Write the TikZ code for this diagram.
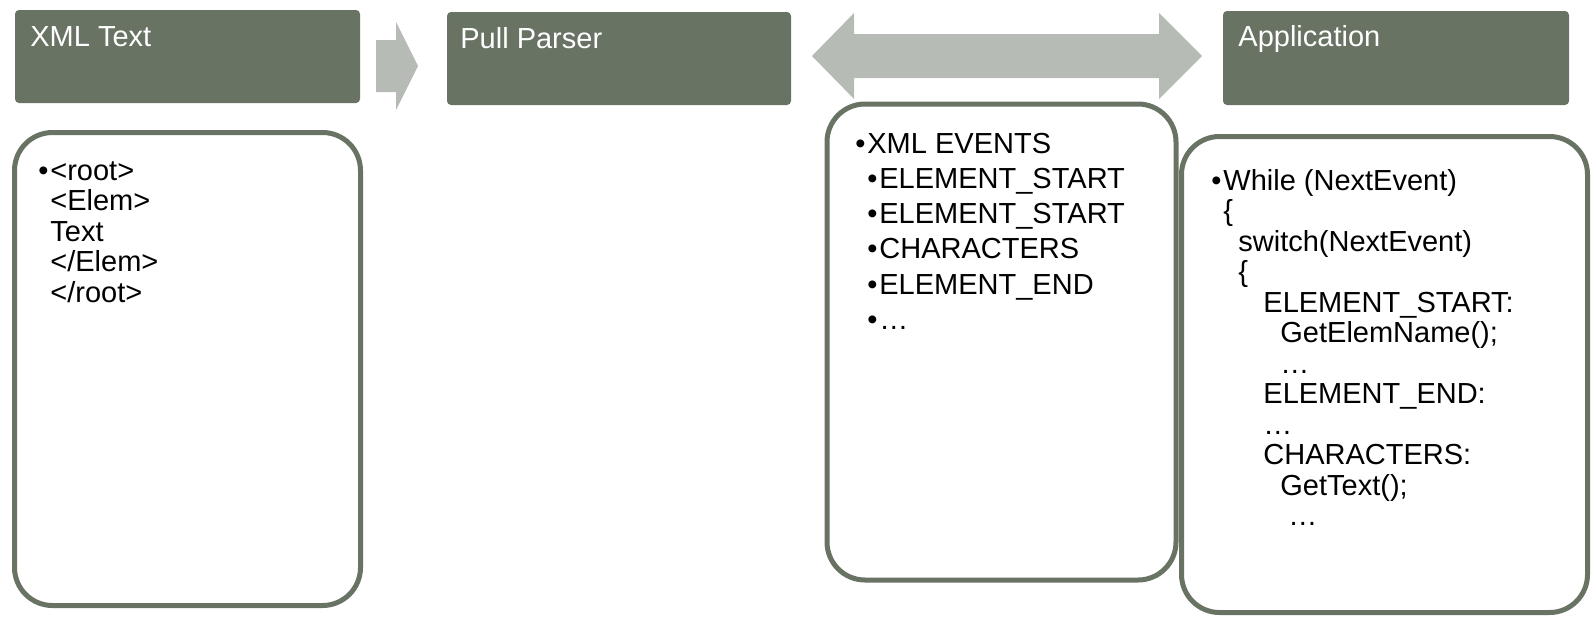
\documentclass[tikz,border=0pt]{standalone}
\usepackage{fontspec}
\setmainfont{Liberation Sans}
\usetikzlibrary{fit}

\definecolor{boxgreen}{RGB}{104,115,100}
\definecolor{arrowgray}{RGB}{182,188,181}

% bullet with a fixed advance so that bulleted lines line up
\newcommand{\bulletmark}{\makebox[6pt][l]{\textbullet}}

\tikzset{
  titlebox/.style={fill=boxgreen, rounded corners=2pt, inner sep=0pt},
  listbox/.style={draw=boxgreen, line width=2.5pt, fill=white, rounded corners=19pt, inner sep=0pt},
  titletext/.style={anchor=base west, inner sep=0pt, text=white, font=\fontsize{14.5}{15.25}\selectfont},
  bodytext/.style={anchor=base west, inner sep=0pt, text=black, font=\fontsize{14.5}{15.25}\selectfont},
  blockarrow/.style={fill=arrowgray},
}

\begin{document}
\begin{tikzpicture}[x=0.5pt,y=-0.5pt]
\useasboundingbox (0,0) rectangle (1591,617);

% block arrows, drawn first so the list boxes sit over them
\fill[blockarrow] (376,40) -- (396,40) -- (396,22) -- (418,66) -- (396,110) -- (396,92) -- (376,92) -- cycle;
\fill[blockarrow] (812,56) -- (854,13) -- (854,34) -- (1159,34) -- (1159,13) -- (1202,56)
  -- (1159,99) -- (1159,78) -- (854,78) -- (854,99) -- cycle;

% header boxes
\node[titlebox, fit={(15,10) (360,103)}] (xmlhead) {};
\node[titlebox, fit={(447,12) (791,105)}] (parserhead) {};
\node[titlebox, fit={(1223,11) (1569,105)}] (apphead) {};

% list boxes
\node[listbox, fit={(14.5,132.5) (360.5,605.5)}] (xmlbody) {};
\node[listbox, fit={(827,104) (1176,580)}] (eventbody) {};
\node[listbox, fit={(1181.5,136.5) (1587.5,612.5)}] (appbody) {};

% header titles
\node[titletext] (xmltitle) at (30,46) {XML Text};
\node[titletext] (parsertitle) at (460,48) {Pull Parser};
\node[titletext] (apptitle) at (1238,46) {Application};

% XML document
\node[bodytext] (x1) at (38,180) {\bulletmark<root>};
\node[bodytext] (x2) at (50,210.5) {<Elem>};
\node[bodytext] (x3) at (50,241) {Text};
\node[bodytext] (x4) at (50,271.5) {</Elem>};
\node[bodytext] (x5) at (50,302) {</root>};

% event stream
\node[bodytext] (e1) at (855,153) {\bulletmark XML EVENTS};
\node[bodytext] (e2) at (867,188) {\bulletmark ELEMENT\_START};
\node[bodytext] (e3) at (867,223) {\bulletmark ELEMENT\_START};
\node[bodytext] (e4) at (867,258) {\bulletmark CHARACTERS};
\node[bodytext] (e5) at (867,294) {\bulletmark ELEMENT\_END};
\node[bodytext] (e6) at (867,329) {\bulletmark …};

% application loop
\node[bodytext] (a1) at (1211,190) {\bulletmark While (NextEvent)};
\node[bodytext] (a2) at (1223,220.5) {\{};
\node[bodytext] (a3) at (1238,251) {switch(NextEvent)};
\node[bodytext] (a4) at (1238,281.5) {\{};
\node[bodytext] (a5) at (1263,312) {ELEMENT\_START:};
\node[bodytext] (a6) at (1280,342.5) {GetElemName();};
\node[bodytext] (a7) at (1280,373) {…};
\node[bodytext] (a8) at (1263,403.5) {ELEMENT\_END:};
\node[bodytext] (a9) at (1263,434) {…};
\node[bodytext] (a10) at (1263,464.5) {CHARACTERS:};
\node[bodytext] (a11) at (1280,495) {GetText();};
\node[bodytext] (a12) at (1288,525.5) {…};
\end{tikzpicture}
\end{document}
